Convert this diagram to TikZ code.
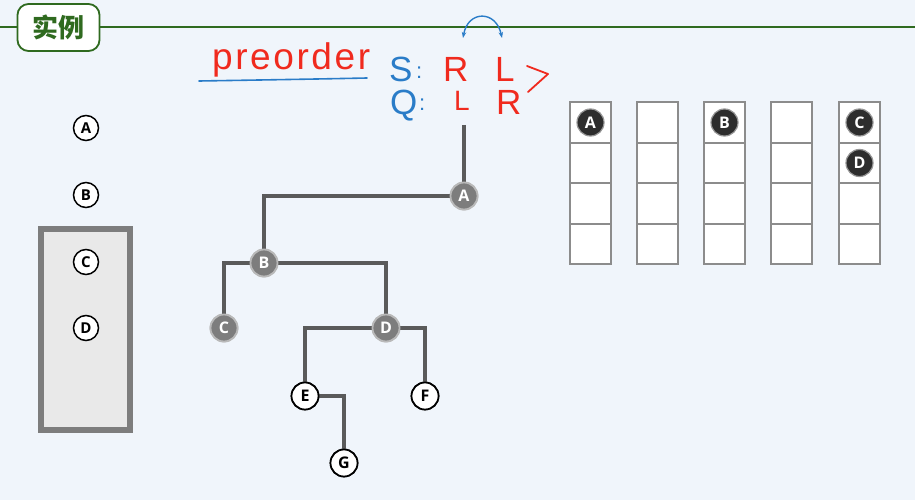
\documentclass[tikz,border=0pt]{standalone}
\usepackage{fontspec}
\setmainfont{Open Sans}
\newfontfamily\cjkfont{Noto Sans CJK SC}
\newfontfamily\handfont{Liberation Sans}
\usetikzlibrary{arrows.meta}
\definecolor{bgc}{HTML}{F0F5FB}
\definecolor{titlegreen}{HTML}{2F6A1F}
\definecolor{edgegray}{HTML}{5A5A5A}
\definecolor{hred}{HTML}{F02A1E}
\definecolor{hblue}{HTML}{2A7CC8}
\definecolor{cellgray}{HTML}{8C8C8C}
\tikzset{
  nodefont/.style={font=\bfseries\fontsize{16}{16}\selectfont},
  graynode/.style={circle, inner sep=0pt, minimum size=27pt, fill={rgb,255:red,125;green,125;blue,125}, draw={rgb,255:red,185;green,185;blue,185}, line width=1.8pt, text=white, nodefont},
  whitenode/.style={circle, inner sep=0pt, minimum size=27pt, fill=white, draw=black, line width=1.7pt, text=black, nodefont},
  smallnode/.style={circle, inner sep=0pt, minimum size=25pt, fill=white, draw=black, line width=1.5pt, text=black, font=\bfseries\fontsize{15}{15}\selectfont},
  darknode/.style={circle, inner sep=0pt, minimum size=27pt, fill={rgb,255:red,45;green,45;blue,45}, draw={rgb,255:red,150;green,150;blue,150}, line width=1.2pt, text=white, nodefont},
  edge/.style={draw=edgegray, line width=4pt},
  cell/.style={draw=cellgray, fill=white, line width=1.8pt, minimum width=41pt, minimum height=40.5pt, inner sep=0pt},
  hand/.style={inner sep=0pt, anchor=base west, font=\handfont\fontsize{35}{35}\selectfont}
}
\begin{document}
\begin{tikzpicture}[x=1pt,y=-1pt]
\useasboundingbox (0,0) rectangle (915,500);
\fill[bgc] (0,0) rectangle (915,500);
% title bar
\draw[titlegreen, line width=1.8pt] (0,27) -- (915,27);
\node[draw=titlegreen, line width=1.8pt, fill=white, rounded corners=11pt, minimum width=82pt, minimum height=47pt, inner sep=0pt, text=titlegreen, font=\cjkfont\bfseries\fontsize{26}{26}\selectfont] (title) at (58.5,27.5) {实例};
% handwriting
\node[hand, text=hred, font=\handfont\addfontfeature{LetterSpace=7}\fontsize{37}{37}\selectfont] (pre) at (212,70) {preorder};
\draw[hblue, line width=1.6pt, line cap=round] (199,81) .. controls (260,80) and (320,79) .. (367,78);
\node[hand, text=hblue] (S) at (389,82) {S};
\node[hand, text=hblue, font=\handfont\fontsize{22}{22}\selectfont] (sc) at (416,79) {:};
\node[hand, text=hred] (SR) at (443,82) {R};
\node[hand, text=hred] (SL) at (495,82) {L};
\node[hand, text=hblue] (Q) at (390,114) {Q};
\node[hand, text=hblue, font=\handfont\fontsize{22}{22}\selectfont] (qc) at (419,111) {:};
\node[hand, text=hred, font=\handfont\fontsize{28}{28}\selectfont] (QL) at (454,111) {L};
\node[hand, text=hred] (QR) at (496,114) {R};
\draw[hred, line width=1.8pt, line cap=round, line join=round] (527,66) -- (548,74) -- (528,92);
\coordinate (arrL) at (463,38);
\coordinate (arrR) at (502,38);
\draw[hblue, line width=1.4pt, {Stealth[length=6pt]}-{Stealth[length=6pt]}] (arrL) .. controls (468,10) and (496,10) .. (arrR);
% left column
\node[draw={rgb,255:red,125;green,125;blue,125}, fill={rgb,255:red,233;green,233;blue,233}, line width=6pt, minimum width=89pt, minimum height=201pt, inner sep=0pt] (stackbox) at (85,329) {};
\node[smallnode] (la) at (86,128) {A};
\node[smallnode] (lb) at (86,195) {B};
\node[smallnode] (lc) at (86,262) {C};
\node[smallnode] (ld) at (86,328) {D};
% tree
\coordinate (top) at (464,125);
\node[graynode] (A) at (464,196) {A};
\node[graynode] (B) at (264,263) {B};
\node[graynode] (C) at (224,328) {C};
\node[graynode] (D) at (386,328) {D};
\node[whitenode] (E) at (305,396) {E};
\node[whitenode] (F) at (425,396) {F};
\node[whitenode] (G) at (344,463) {G};
\draw[edge] (top) -- (A.north);
\draw[edge] (A.west) -| (B.north);
\draw[edge] (B.west) -| (C.north);
\draw[edge] (B.east) -| (D.north);
\draw[edge] (D.west) -| (E.north);
\draw[edge] (D.east) -| (F.north);
\draw[edge] (E.east) -| (G.north);
% redraw nodes on top of the edges
\node[graynode] at (A) {A};
\node[graynode] at (B) {B};
\node[graynode] at (C) {C};
\node[graynode] at (D) {D};
\node[whitenode] at (E) {E};
\node[whitenode] at (F) {F};
\node[whitenode] at (G) {G};
% stacks
\foreach \c/\x in {1/590.5, 2/657.5, 3/724.5, 4/791.5, 5/859.5} {
  \foreach \r/\y in {1/122.5, 2/163, 3/203.5, 4/244} {
    \node[cell] (s\c r\r) at (\x,\y) {};
  }
}
\node[darknode] (qa) at (s1r1) {A};
\node[darknode] (qb) at (s3r1) {B};
\node[darknode] (qc5) at (s5r1) {C};
\node[darknode] (qd) at (s5r2) {D};
\end{tikzpicture}
\end{document}
